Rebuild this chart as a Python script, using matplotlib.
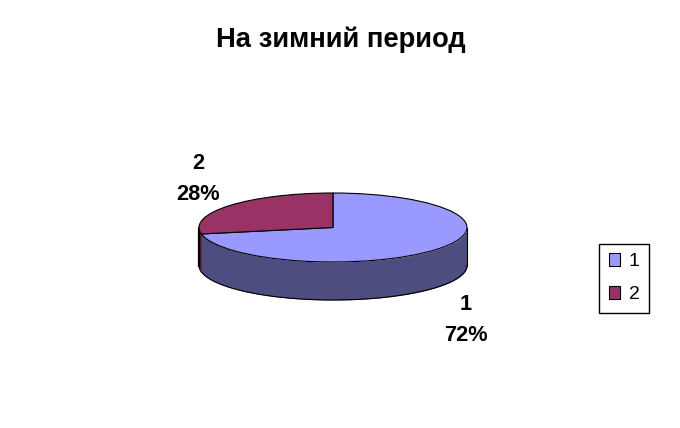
import numpy as np
import matplotlib
matplotlib.use('Agg')
import matplotlib.pyplot as plt

plt.rcParams['font.family'] = ['Liberation Sans', 'DejaVu Sans']

title = 'На зимний период'
labels = ['1', '2']
shares = [72, 28]
top_colors = ['#9999FF', '#993366']
side_colors = ['#4D4D80', '#4D1A33']

W, H = 680, 428
fig = plt.figure(figsize=(W / 100, H / 100), dpi=100, facecolor='white')

# the pie sits in its own stretched axes, so that it comes out as a flat ellipse
cx, cy, rx, ry, depth = 333, 227.5, 134, 34.5, 38
ax = fig.add_axes([(cx - rx) / W, 1 - (cy + ry) / H, 2 * rx / W, 2 * ry / H])
wedges, _ = ax.pie(shares, colors=top_colors, startangle=90, counterclock=False,
                   radius=1, wedgeprops={'edgecolor': 'black', 'linewidth': 0.8})
ax.set_aspect('auto')
ax.set_xlim(-1, 1)
ax.set_ylim(-1, 1)
for w in wedges:
    w.set_zorder(3)
    w.set_clip_on(False)

# side wall: only the front half of the rim can be seen
d = depth / ry
start = 90
for share, col in zip(shares, side_colors):
    end = start - share * 3.6
    lo, hi = np.radians(min(start, end)), np.radians(max(start, end))
    t = np.linspace(lo, hi, 300) % (2 * np.pi)
    t = t[t > np.pi]
    t = np.sort(t)
    if len(t):
        ax.fill_between(np.cos(t), np.sin(t), np.sin(t) - d, color=col, lw=0,
                        zorder=1, clip_on=False)
        ax.plot(np.cos(t), np.sin(t) - d, color='black', lw=0.8, zorder=2, clip_on=False)
    start = end
ax.plot([-1, -1], [0, -d], color='black', lw=1.6, zorder=2, clip_on=False)
ax.plot([1, 1], [0, -d], color='black', lw=0.8, zorder=2, clip_on=False)

fig.text(341 / W, 1 - 40 / H, title, ha='center', va='center', fontsize=19.7, fontweight='bold')

label_pos = [(466, 320), (198, 179)]
for (x, y), lab, share in zip(label_pos, labels, shares):
    fig.text(x / W, 1 - y / H, f'{lab}\n{share}%', ha='center', va='center',
             fontsize=15.7, fontweight='bold', linespacing=1.62)

leg = fig.legend(wedges, labels, loc='lower left', bbox_to_anchor=(599 / W, 1 - 313 / H),
                 borderaxespad=0, fontsize=14, fancybox=False, framealpha=1, edgecolor='black',
                 handlelength=0.6, handleheight=0.6, handletextpad=0.42, labelspacing=0.82,
                 borderpad=0.5)
leg.get_frame().set_linewidth(1)

fig.savefig('out.png', dpi=100)
